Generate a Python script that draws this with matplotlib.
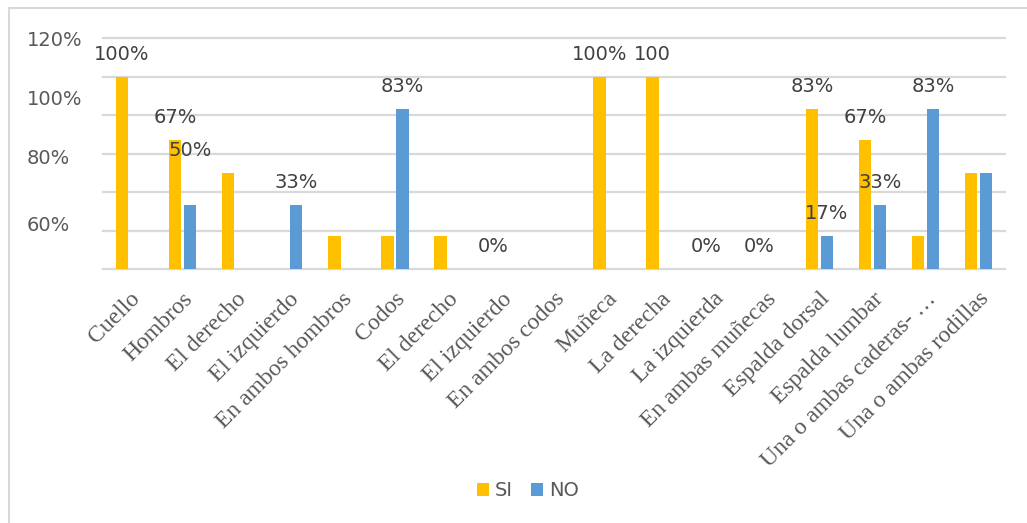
import numpy as np
import matplotlib
matplotlib.use("Agg")
import matplotlib.pyplot as plt
from matplotlib.patches import Rectangle

# categorías y porcentajes por serie
categorias = ["Cuello", "Hombros", "El derecho", "El izquierdo", "En ambos hombros",
              "Codos", "El derecho", "El izquierdo", "En ambos codos", "Muñeca",
              "La derecha", "La izquierda", "En ambas muñecas", "Espalda dorsal",
              "Espalda lumbar", "Una o ambas caderas- …", "Una o ambas rodillas"]
si = [100, 67, 50, 0, 17, 17, 17, 0, 0, 100, 100, 0, 0, 83, 67, 17, 50]
no = [0, 33, 0, 33, 0, 83, 0, 0, 0, 0, 0, 0, 0, 17, 33, 83, 50]

# etiquetas de datos visibles (índice de categoría -> texto)
etiquetas_si = {0: "100%", 1: "67%", 7: "0%", 9: "100%", 10: "100", 11: "0%",
                12: "0%", 13: "83%", 14: "67%"}
etiquetas_no = {1: "50%", 3: "33%", 5: "83%", 13: "17%", 14: "33%", 15: "83%"}

# rótulos del eje y
ytick_txt = ["120%", "100%", "80%", "60%"]
ytick_pos = [120, 89, 58.5, 23.5]
grid_vals = [0, 20, 40, 60, 80, 100, 120]

AMARILLO = "#FFC000"
AZUL = "#5B9BD5"
GRIS = "#D9D9D9"
TEXTO = "#595959"

W, H = 1027, 523
fig = plt.figure(figsize=(W / 100, H / 100), dpi=100)
fig.patches.append(Rectangle((9 / W, -0.05), 1.1, 1.05 - 8 / H, transform=fig.transFigure,
                             fill=False, edgecolor=GRIS, lw=1.5))

ax = fig.add_axes([103 / W, (H - 269) / H, 902 / W, 231 / H])

x = np.arange(len(categorias))
ancho = 0.236
desp = 0.141
ax.bar(x - desp, si, ancho, color=AMARILLO, label="SI", zorder=3)
ax.bar(x + desp, no, ancho, color=AZUL, label="NO", zorder=3)

for v in grid_vals:
    ax.axhline(v, color=GRIS, lw=1.6, zorder=1, clip_on=False)

ax.set_xlim(-0.5, len(categorias) - 0.5)
ax.set_ylim(0, 120)
for s in ax.spines.values():
    s.set_visible(False)

ax.set_xticks(x)
ax.set_xticklabels(categorias, rotation=45, ha="right", va="top", rotation_mode="anchor",
                   fontsize=17, color=TEXTO, family="Liberation Serif")
ax.tick_params(axis="x", length=0, pad=14)

ax.set_yticks(ytick_pos)
ax.set_yticklabels(ytick_txt, fontsize=14, color=TEXTO)
ax.tick_params(axis="y", length=0, pad=54.7)
for lbl in ax.get_yticklabels():
    lbl.set_ha("left")


def poner_etiquetas(etiquetas, xs):
    for i, t in etiquetas.items():
        ax.annotate(t, (xs[i], float(t.rstrip("%"))), xytext=(0, 13),
                    textcoords="offset pixels", ha="center", va="bottom",
                    fontsize=14, color="#404040", zorder=4)


poner_etiquetas(etiquetas_si, x - desp)
poner_etiquetas(etiquetas_no, x + desp)

fig.legend(loc="center", bbox_to_anchor=(0.514, 1 - 491 / H), ncol=2, frameon=False,
           fontsize=14, labelcolor=TEXTO, handlelength=0.62, handleheight=0.62,
           handletextpad=0.3, columnspacing=0.95)

fig.savefig("out.png", dpi=100)
